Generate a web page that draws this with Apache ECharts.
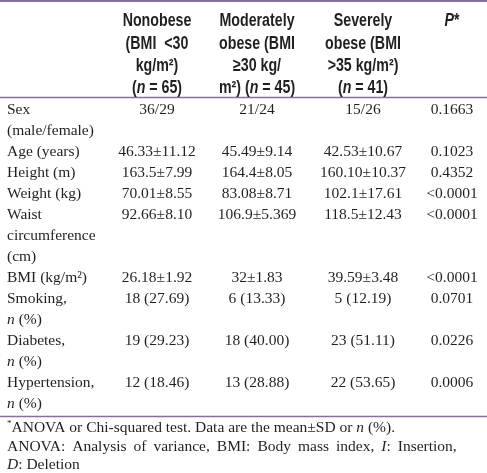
<!DOCTYPE html>
<html>
<head>
<meta charset="utf-8">
<script src="https://cdn.jsdelivr.net/npm/echarts@6/dist/echarts.min.js"></script>
<style>
html,body{margin:0;padding:0;background:#fff;}
#chart{width:487px;height:473px;}
</style>
</head>
<body>
<div id="chart"></div>
<script>
// ---------- DATA ----------
const headerTexts = [
  ['Nonobese', '(BMI  <30', 'kg/m\u00B2)', '({i|n} = 65)'],
  ['Moderately', 'obese (BMI', '\u226530 kg/', 'm\u00B2) ({i|n} = 45)'],
  ['Severely', 'obese (BMI', '>35 kg/m\u00B2)', '({i|n} = 41)'],
  ['{i|P}*']
];
const rowLabels = [
  ['Sex', '(male/female)'],
  ['Age (years)'],
  ['Height (m)'],
  ['Weight (kg)'],
  ['Waist', 'circumference', '(cm)'],
  ['BMI (kg/m\u00B2)'],
  ['Smoking,', '{i|n} (%)'],
  ['Diabetes,', '{i|n} (%)'],
  ['Hypertension,', '{i|n} (%)']
];
const nonobese = ['36/29', '46.33\u00B111.12', '163.5\u00B17.99', '70.01\u00B18.55', '92.66\u00B18.10', '26.18\u00B11.92', '18 (27.69)', '19 (29.23)', '12 (18.46)'];
const moderatelyObese = ['21/24', '45.49\u00B19.14', '164.4\u00B18.05', '83.08\u00B18.71', '106.9\u00B15.369', '32\u00B11.83', '6 (13.33)', '18 (40.00)', '13 (28.88)'];
const severelyObese = ['15/26', '42.53\u00B110.67', '160.10\u00B110.37', '102.1\u00B117.61', '118.5\u00B112.43', '39.59\u00B13.48', '5 (12.19)', '23 (51.11)', '22 (53.65)'];
const pValues = ['0.1663', '0.1023', '0.4352', '<0.0001', '<0.0001', '<0.0001', '0.0701', '0.0226', '0.0006'];
const footnoteLines = [
  '{sup|*}ANOVA or Chi-squared test. Data are the mean\u00B1SD or {i|n} (%).',
  'ANOVA: Analysis of variance, BMI: Body mass index, {i|I}: Insertion,',
  '{i|D}: Deletion'
];
const justifiedFootnoteLines = [false, true, false];

// ---------- LAYOUT ----------
const W = 487, H = 473;
const colX = [7, 157, 257, 363, 452];
const lineColor = '#86709a';
const textColor = '#231f20';
const serif = "'Liberation Serif', 'Times New Roman', serif";
const sans = "'Liberation Sans', Arial, sans-serif";
const bodySize = 15.5;
const headSize = 18;
const headScaleX = 0.79;
const justifySpace = 7;

// build cells
const bodyCells = [];
let line = 0;
const valueCols = [nonobese, moderatelyObese, severelyObese, pValues];
rowLabels.forEach((lbls, r) => {
  lbls.forEach((t, k) => bodyCells.push({ x: colX[0], y: line + k, text: t, align: 'left' }));
  valueCols.forEach((col, c) => bodyCells.push({ x: colX[c + 1], y: line, text: col[r], align: 'center' }));
  line += lbls.length;
});
const totalLines = line; // 15

const headCells = [];
headerTexts.forEach((lines, c) => {
  lines.forEach((t, k) => headCells.push({ x: colX[c + 1], y: k, text: t, align: 'center' }));
});

function makeRender(cells, font, rich, scaleX) {
  return function (params, api) {
    const cell = cells[params.dataIndex];
    const p = api.coord([api.value(0), api.value(1)]);
    return {
      type: 'text',
      x: p[0], y: p[1],
      scaleX: scaleX, scaleY: 1,
      style: {
        text: cell.text,
        font: font,
        fill: textColor,
        align: cell.align,
        verticalAlign: 'middle',
        rich: rich
      }
    };
  };
}

const footText = footnoteLines.map((t, i) =>
  justifiedFootnoteLines[i] ? t.split(' ').join('{sp| }') : t
).join('\n');

const chart = echarts.init(document.getElementById('chart'), null, { renderer: 'canvas' });
const option = {
  backgroundColor: '#ffffff',
  animation: false,
  grid: [
    { left: 0, right: 0, top: 110, height: 294 },
    { left: 0, right: 0, top: 21.5, height: 67 }
  ],
  xAxis: [
    { type: 'value', min: 0, max: W, gridIndex: 0, show: false },
    { type: 'value', min: 0, max: W, gridIndex: 1, show: false }
  ],
  yAxis: [
    { type: 'value', min: 0, max: totalLines - 1, inverse: true, gridIndex: 0, show: false },
    { type: 'value', min: 0, max: 3, inverse: true, gridIndex: 1, show: false }
  ],
  series: [
    {
      type: 'custom', xAxisIndex: 0, yAxisIndex: 0, clip: false, silent: true,
      data: bodyCells.map(c => [c.x, c.y]),
      renderItem: makeRender(bodyCells, bodySize + 'px ' + serif, {
        i: { fontFamily: serif, fontSize: bodySize, fontStyle: 'italic', fill: textColor }
      }, 1)
    },
    {
      type: 'custom', xAxisIndex: 1, yAxisIndex: 1, clip: false, silent: true,
      data: headCells.map(c => [c.x, c.y]),
      renderItem: makeRender(headCells, 'bold ' + headSize + 'px ' + sans, {
        i: { fontFamily: sans, fontSize: headSize, fontWeight: 'bold', fontStyle: 'italic', fill: textColor }
      }, headScaleX)
    }
  ],
  graphic: [
    { type: 'line', shape: { x1: 0, y1: 1, x2: W, y2: 1 }, style: { stroke: lineColor, lineWidth: 2 } },
    { type: 'line', shape: { x1: 0, y1: 97.5, x2: W, y2: 97.5 }, style: { stroke: lineColor, lineWidth: 1.5 } },
    { type: 'line', shape: { x1: 0, y1: 416.5, x2: W, y2: 416.5 }, style: { stroke: lineColor, lineWidth: 1.5 } },
    {
      type: 'text', left: 7, top: 419,
      style: {
        text: footText,
        font: bodySize + 'px ' + serif,
        fill: textColor,
        lineHeight: 18.5,
        rich: {
          i: { fontFamily: serif, fontSize: bodySize, fontStyle: 'italic', fill: textColor, lineHeight: 18.5 },
          sp: { fontFamily: serif, fontSize: bodySize, width: justifySpace, lineHeight: 18.5 },
          sup: { fontFamily: serif, fontSize: 9, fill: textColor, verticalAlign: 'top', lineHeight: 18.5, padding: [0, 0, 8, 0] }
        }
      }
    }
  ]
};
chart.setOption(option);
</script>
</body>
</html>
